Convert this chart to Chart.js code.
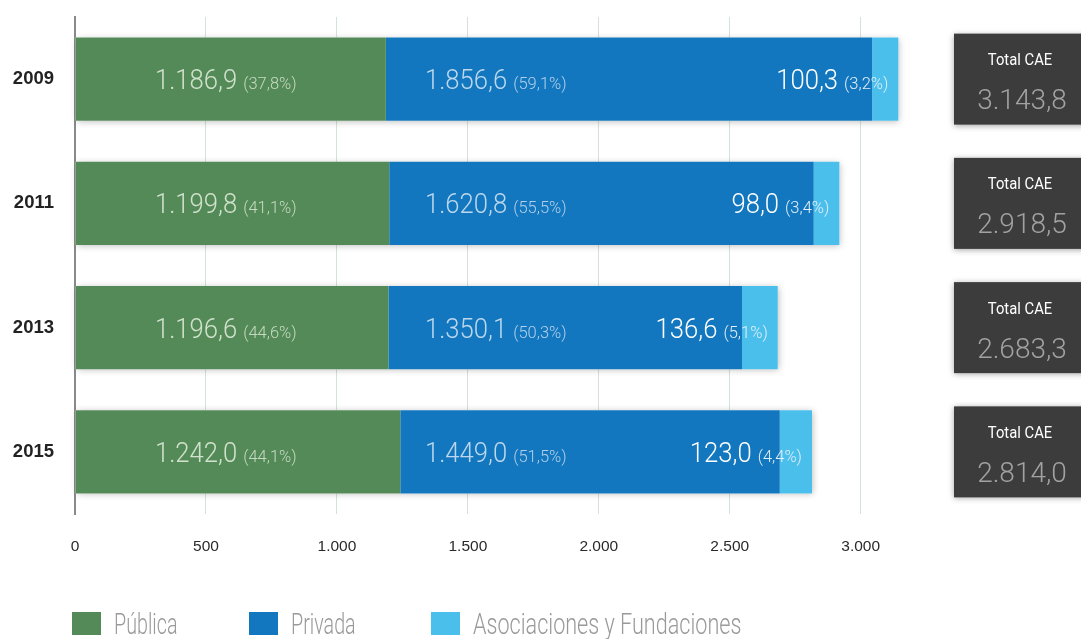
<!DOCTYPE html>
<html>
<head>
<meta charset="utf-8">
<script src="https://cdn.jsdelivr.net/npm/chart.js@4"></script>
<style>
html,body{margin:0;padding:0;background:#fff;}
#wrap{position:relative;width:1081px;height:639px;overflow:hidden;}
canvas{display:block;}
</style>
</head>
<body>
<div id="wrap"><canvas id="c" width="1081" height="639"></canvas></div>
<script>
const years = ['2009', '2011', '2013', '2015'];
const publica = [1186.9, 1199.8, 1196.6, 1242.0];
const privada = [1856.6, 1620.8, 1350.1, 1449.0];
const asociaciones = [100.3, 98.0, 136.6, 123.0];
const pctPublica = ['37,8', '41,1', '44,6', '44,1'];
const pctPrivada = ['59,1', '55,5', '50,3', '51,5'];
const pctAsociaciones = ['3,2', '3,4', '5,1', '4,4'];
const totals = [3143.8, 2918.5, 2683.3, 2814.0];
const seriesNames = ['Pública', 'Privada', 'Asociaciones y Fundaciones'];
const xTicks = [0, 500, 1000, 1500, 2000, 2500, 3000];

const COLORS = ['#548a57', '#1277be', '#4bbfec'];

function fmt(v, dec) {
  const s = v.toFixed(dec);
  let [ip, dp] = s.split('.');
  ip = ip.replace(/\B(?=(\d{3})+(?!\d))/g, '.');
  return dp !== undefined ? ip + ',' + dp : ip;
}

function drawText(ctx, text, x, y, font, color, sx, align) {
  ctx.save();
  ctx.font = font;
  ctx.fillStyle = color;
  ctx.textBaseline = 'alphabetic';
  ctx.textAlign = align || 'left';
  ctx.translate(x, y);
  ctx.scale(sx, 1);
  ctx.fillText(text, 0, 0);
  const w = ctx.measureText(text).width * sx;
  ctx.restore();
  return w;
}

const VAL_FONT = '300 27px Roboto, "Liberation Sans", sans-serif';
const PCT_FONT = '300 16.5px Roboto, "Liberation Sans", sans-serif';

const shadowPlugin = {
  id: 'barShadow',
  beforeDatasetsDraw(chart) {
    const ctx = chart.ctx;
    const first = chart.getDatasetMeta(0);
    const last = chart.getDatasetMeta(2);
    ctx.save();
    ctx.shadowColor = 'rgba(0,0,0,0.28)';
    ctx.shadowBlur = 7;
    ctx.shadowOffsetX = 1;
    ctx.shadowOffsetY = 1;
    ctx.fillStyle = '#ffffff';
    first.data.forEach((bar, i) => {
      const e = last.data[i];
      const x0 = bar.base, x1 = e.x;
      ctx.fillRect(x0, bar.y - bar.height / 2, x1 - x0, bar.height);
    });
    ctx.restore();
  }
};

const labelPlugin = {
  id: 'labels',
  afterDatasetsDraw(chart) {
    const ctx = chart.ctx;
    const xs = chart.scales.x;
    const m0 = chart.getDatasetMeta(0), m2 = chart.getDatasetMeta(2);
    const zero = xs.getPixelForValue(0);
    years.forEach((y, i) => {
      const cy = m0.data[i].y;
      const base = cy + 10;
      let x = zero + 80;
      let w = drawText(ctx, fmt(publica[i], 1), x, base, VAL_FONT, '#d0e2cd', 0.95);
      drawText(ctx, '(' + pctPublica[i] + '%)', x + w + 6, base, PCT_FONT, '#c6dac3', 1);
      x = zero + 350;
      w = drawText(ctx, fmt(privada[i], 1), x, base, VAL_FONT, '#bcd7ee', 0.95);
      drawText(ctx, '(' + pctPrivada[i] + '%)', x + w + 6, base, PCT_FONT, '#b3d0ea', 1);
      const end = m2.data[i].x - 10;
      const pw = drawText(ctx, '(' + pctAsociaciones[i] + '%)', end, base, PCT_FONT, '#e2eef8', 1, 'right');
      drawText(ctx, fmt(asociaciones[i], 1), end - pw - 6, base, VAL_FONT, '#ffffff', 0.95, 'right');
    });
  },
  afterDraw(chart) {
    const ctx = chart.ctx;
    const m0 = chart.getDatasetMeta(0);
    years.forEach((y, i) => {
      const cy = m0.data[i].y;
      const bx = 954, bw = 140, bh = 91;
      ctx.save();
      ctx.shadowColor = 'rgba(0,0,0,0.35)';
      ctx.shadowBlur = 6;
      ctx.shadowOffsetX = 0;
      ctx.shadowOffsetY = 1;
      ctx.fillStyle = '#3c3c3c';
      ctx.fillRect(bx, cy - bh / 2, bw, bh);
      ctx.restore();
      drawText(ctx, 'Total CAE', 1020, cy - 14, '400 17px Roboto, "Liberation Sans", sans-serif', '#ffffff', 0.87, 'center');
      drawText(ctx, fmt(totals[i], 1), 1022, cy + 30, '300 28px Roboto, "Liberation Sans", sans-serif', '#a2a2a2', 1, 'center');
    });
    const lx = [72, 249, 431];
    const lsx = [0.68, 0.68, 0.745];
    seriesNames.forEach((n, k) => {
      ctx.fillStyle = COLORS[k];
      ctx.fillRect(lx[k], 612, 29, 23);
      drawText(ctx, n, lx[k] + 42, 634, '300 29px Roboto, "Liberation Sans", sans-serif', '#9a9a9a', lsx[k]);
    });
  }
};

const datasets = [publica, privada, asociaciones].map((d, k) => ({
  label: seriesNames[k],
  data: d,
  backgroundColor: COLORS[k],
  borderWidth: 0,
  barPercentage: 0.67,
  categoryPercentage: 1.0
}));

new Chart(document.getElementById('c'), {
  type: 'bar',
  data: { labels: years, datasets },
  options: {
    indexAxis: 'y',
    responsive: false,
    animation: false,
    devicePixelRatio: 1,
    layout: { padding: { top: 17, right: 181, left: 0, bottom: 0 } },
    plugins: { legend: { display: false }, tooltip: { enabled: false } },
    scales: {
      x: {
        stacked: true,
        min: 0,
        max: 3150,
        afterFit(s) { s.height = 125; s.paddingLeft = 0; s.paddingRight = 0; s.paddingTop = 0; s.paddingBottom = 0; },
        afterBuildTicks(s) { s.ticks = xTicks.map(v => ({ value: v })); },
        grid: { color: '#d6e2d6', lineWidth: 1, drawTicks: false },
        border: { display: false },
        ticks: {
          includeBounds: false,
          padding: 23,
          color: '#2a2a2a',
          font: { family: '"Liberation Sans", Arial, sans-serif', size: 15.5 },
          callback: v => fmt(v, 0)
        }
      },
      y: {
        stacked: true,
        afterFit(s) { s.width = 75; s.paddingTop = 0; s.paddingBottom = 0; s.paddingLeft = 0; s.paddingRight = 0; },
        grid: { display: false, drawTicks: false },
        border: { display: true, color: '#8a8a8a', width: 2 },
        ticks: {
          padding: 21,
          color: '#222222',
          font: { family: '"Liberation Sans", Arial, sans-serif', size: 18.5, weight: 'bold' }
        }
      }
    }
  },
  plugins: [shadowPlugin, labelPlugin]
});
</script>
</body>
</html>
